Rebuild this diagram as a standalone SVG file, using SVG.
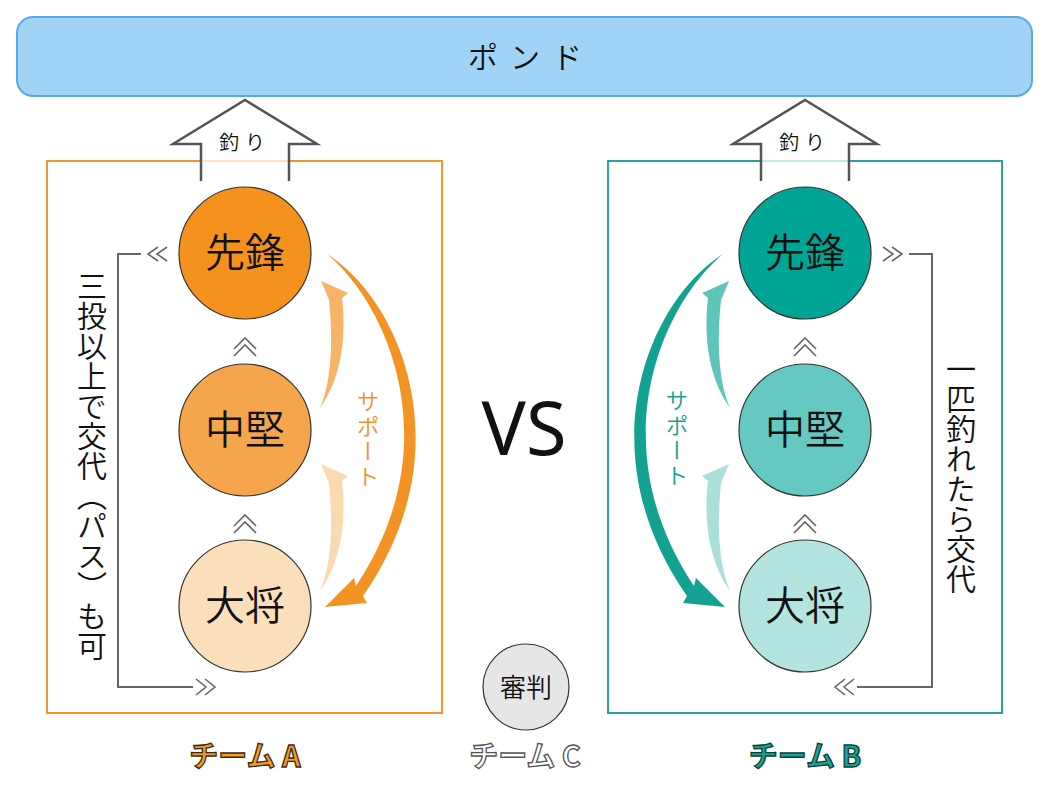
<svg xmlns="http://www.w3.org/2000/svg" width="1050" height="788" viewBox="0 0 1050 788">
<style>
.jp{font-family:"Noto Sans CJK JP","Noto Sans",sans-serif;fill:#111;font-weight:350}
.node{stroke:#333;stroke-width:1.2}
.box{fill:none;stroke-width:2}
.ln{fill:none;stroke:#666;stroke-width:2}
.chev{fill:none;stroke:#666;stroke-width:1.6}
.up{fill:#fff;fill-opacity:0.75;stroke:#555;stroke-width:2.5;stroke-linejoin:miter}
.circ{font-size:40px;text-anchor:middle}
.vert{writing-mode:vertical-rl;text-anchor:middle}
.lbl{font-family:"Noto Sans CJK JP","Noto Sans",sans-serif;font-weight:700;font-size:29px;text-anchor:middle;stroke-width:1.3}
</style>
<rect width="1050" height="788" fill="#fff"/>

<g id="pond">
<rect x="17" y="17" width="1015" height="79" rx="16" fill="#9fd4f7" stroke="#5aa9e6" stroke-width="2"/>
<text class="jp" x="531" y="68" font-size="30" letter-spacing="12" text-anchor="middle">ポンド</text>
</g>

<g id="teamA-box"><rect class="box" x="47" y="161" width="395" height="552" stroke="#f0962a"/></g>
<g id="teamB-box"><rect class="box" x="608" y="161" width="394" height="552" stroke="#2aa59a"/></g>

<g id="connectors">
<path class="up" d="M201,181 L201,144 L173,144 L245,100 L317,144 L289,144 L289,181"/>
<path class="up" d="M761,181 L761,144 L733,144 L805,100 L877,144 L849,144 L849,181"/>
<polyline class="chev" points="234,349 245,338 256,349"/>
<polyline class="chev" points="234,356 245,345 256,356"/>
<polyline class="chev" points="234,526 245,515 256,526"/>
<polyline class="chev" points="234,533 245,522 256,533"/>
<polyline class="chev" points="794,349 805,338 816,349"/>
<polyline class="chev" points="794,356 805,345 816,356"/>
<polyline class="chev" points="794,526 805,515 816,526"/>
<polyline class="chev" points="794,533 805,522 816,533"/>
<polyline class="ln" points="141,254 118,254 118,687 193,687"/>
<polyline class="chev" points="158,247 148,254 158,261"/>
<polyline class="chev" points="167,247 157,254 167,261"/>
<polyline class="chev" points="196,679 206,687 196,695"/>
<polyline class="chev" points="205,679 215,687 205,695"/>
<g transform="translate(1050,0) scale(-1,1)">
<polyline class="ln" points="141,254 118,254 118,687 193,687"/>
<polyline class="chev" points="158,247 148,254 158,261"/>
<polyline class="chev" points="167,247 157,254 167,261"/>
<polyline class="chev" points="196,679 206,687 196,695"/>
<polyline class="chev" points="205,679 215,687 205,695"/>
</g>
<g id="supportA">
<path fill="#f39323" d="M327,254 C400,300 465,450 363,596 L367,603 L325,607 L354,578 L356,586 C450,445 388,305 327,254 Z"/>
<path fill="#f7b468" d="M320,408 C340,380 347,340 342,298 L348,293 L321,281 L329,300 C333,340 332,380 320,408 Z"/>
<path fill="#fbdab2" d="M320,591 C340,563 347,523 342,481 L348,476 L321,464 L329,483 C333,523 332,563 320,591 Z"/>
</g>
<g id="supportB" transform="translate(1050,0) scale(-1,1)">
<path fill="#13a292" d="M327,254 C400,300 465,450 363,596 L367,603 L325,607 L354,578 L356,586 C450,445 388,305 327,254 Z"/>
<path fill="#5fc4ba" d="M320,408 C340,380 347,340 342,298 L348,293 L321,281 L329,300 C333,340 332,380 320,408 Z"/>
<path fill="#abdfda" d="M320,591 C340,563 347,523 342,481 L348,476 L321,464 L329,483 C333,523 332,563 320,591 Z"/>
</g>
</g>

<g id="texts">
<text class="jp" x="245" y="150" font-size="20" letter-spacing="6" text-anchor="middle">釣り</text>
<text class="jp" x="805" y="150" font-size="20" letter-spacing="6" text-anchor="middle">釣り</text>
<text class="jp vert" x="92" y="466" font-size="30">三投以上で交代（パス）も可</text>
<text class="jp vert" x="961" y="474" font-size="30">一匹釣れたら交代</text>
<text class="jp vert" x="368" y="440" font-size="23" letter-spacing="2" style="fill:#f0922a">サポート</text>
<text class="jp vert" x="677" y="439" font-size="23" letter-spacing="2" style="fill:#13a292">サポート</text>
<text x="524" y="455" font-family="'Noto Sans','Open Sans',sans-serif" font-size="74" text-anchor="middle" fill="#111">VS</text>
</g>

<g id="a-senpou"><circle class="node" cx="245" cy="253" r="66" fill="#f5921e"/><text class="jp circ" x="245" y="267">先鋒</text></g>
<g id="a-chuken"><circle class="node" cx="245" cy="430" r="66" fill="#f5a64c"/><text class="jp circ" x="245" y="444">中堅</text></g>
<g id="a-taisho"><circle class="node" cx="245" cy="606" r="66" fill="#fbdfbb"/><text class="jp circ" x="245" y="620">大将</text></g>
<g id="b-senpou"><circle class="node" cx="805" cy="253" r="66" fill="#00a596"/><text class="jp circ" x="805" y="267">先鋒</text></g>
<g id="b-chuken"><circle class="node" cx="805" cy="430" r="66" fill="#66c9c1"/><text class="jp circ" x="805" y="444">中堅</text></g>
<g id="b-taisho"><circle class="node" cx="805" cy="606" r="66" fill="#b4e4df"/><text class="jp circ" x="805" y="620">大将</text></g>

<g id="referee"><circle class="node" cx="526" cy="687" r="43" fill="#e6e6e6" stroke="#444"/><text class="jp" x="526" y="697" font-size="26" text-anchor="middle">審判</text></g>

<g id="labels">
<text class="lbl" x="245" y="767" fill="#f39a2a" stroke="#3d2a0e">チーム A</text>
<text class="lbl" x="525" y="767" fill="#fff" stroke="#555">チーム C</text>
<text class="lbl" x="805" y="767" fill="#17a596" stroke="#0d3d38">チーム B</text>
</g>
</svg>
